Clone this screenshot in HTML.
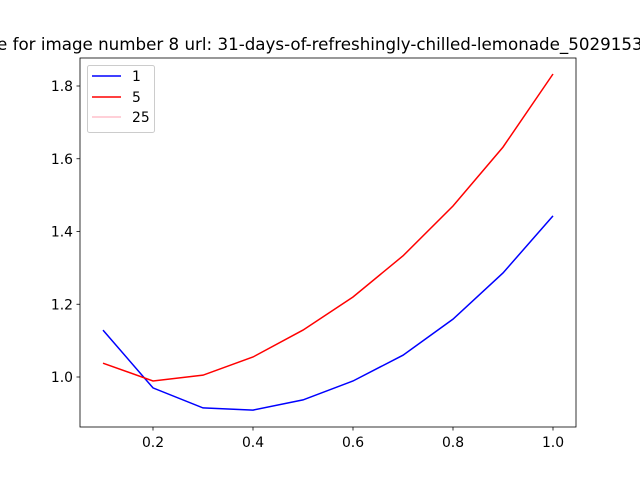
<!DOCTYPE html>
<html><head><meta charset="utf-8"><style>
body{margin:0;background:#fff;}
svg{display:block;font-family:"DejaVu Sans","Liberation Sans",sans-serif;}
</style></head><body>
<svg id="chart" width="640" height="480" viewBox="0 0 640 480" xmlns="http://www.w3.org/2000/svg">
<rect width="640" height="480" fill="#fff"/>
<text x="-3" y="50" font-size="16.7" fill="#000">e for image number 8 url: 31-days-of-refreshingly-chilled-lemonade_50291532</text>
<g id="plot"></g>
</svg>
<script>
const xs = [0.1,0.2,0.3,0.4,0.5,0.6,0.7,0.8,0.9,1.0];
const s1 = [1.129,0.970,0.915,0.909,0.937,0.989,1.060,1.159,1.286,1.443];
const s5 = [1.038,0.989,1.005,1.055,1.129,1.220,1.333,1.470,1.632,1.833];
const s25 = [];
const xTicks = [0.2,0.4,0.6,0.8,1.0];
const yTicks = [1.0,1.2,1.4,1.6,1.8];
const X = v => 153 + (v - 0.2) * 500;
const Y = v => 377 - (v - 1.0) * 363.75;
const NS = "http://www.w3.org/2000/svg";
const g = document.getElementById('plot');
function mk(tag, attrs){const e=document.createElementNS(NS,tag);for(const k in attrs)e.setAttribute(k,attrs[k]);g.appendChild(e);return e;}
function line(data,color,name){
  if(!data.length) return;
  const el = mk('polyline',{points:data.map((v,i)=>X(xs[i])+','+Y(v)).join(' '),fill:'none',stroke:color,'stroke-width':1.5});
  
  
}
line(s1,'#0000ff','series-1-line');
line(s5,'#ff0000','series-5-line');
line(s25,'#ffc0cb','series-25-line');
const frame = mk('rect',{x:80,y:58,width:496,height:369,fill:'none',stroke:'#000','stroke-width':0.8});


xTicks.forEach(t=>{
  const tk = mk('line',{x1:X(t),x2:X(t),y1:427,y2:430.5,stroke:'#000','stroke-width':0.8});
  
  
  const lb = mk('text',{x:X(t),y:447,'font-size':13.9,'text-anchor':'middle'});
  lb.textContent = t.toFixed(1);
  
  
});
yTicks.forEach(t=>{
  const tk = mk('line',{x1:76.5,x2:80,y1:Y(t),y2:Y(t),stroke:'#000','stroke-width':0.8});
  
  
  const lb = mk('text',{x:73,y:Y(t)+5,'font-size':13.9,'text-anchor':'end'});
  lb.textContent = t.toFixed(1);
  
  
});
const lg = mk('rect',{x:87.5,y:65.5,width:67,height:67,rx:2,fill:'#fff','fill-opacity':0.8,stroke:'#ccc','stroke-width':1});


[['1','#0000ff',76],['5','#ff0000',97],['25','#ffc0cb',117]].forEach(([lab,c,y])=>{
  const l = mk('line',{x1:92,x2:121,y1:y,y2:y,stroke:c,'stroke-width':1.5});
  
  
  const t = mk('text',{x:132,y:y+5,'font-size':13.9});
  t.textContent = lab;
  
  
});
</script>
</body></html>
